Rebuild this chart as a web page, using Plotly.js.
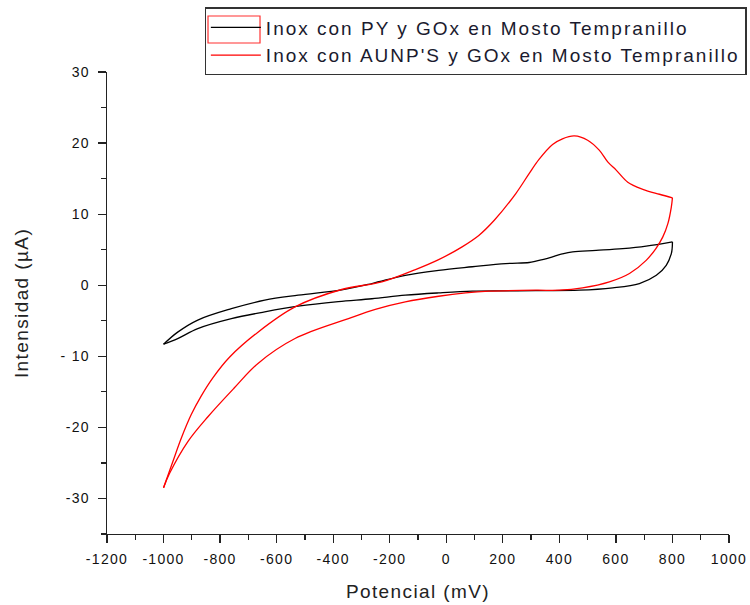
<!DOCTYPE html>
<html>
<head>
<meta charset="utf-8">
<script src="https://cdn.plot.ly/plotly-3.0.1.min.js"></script>
<style>
  html, body { margin: 0; padding: 0; background: #fff; }
  #chart { width: 750px; height: 605px; }
  .legendtext { letter-spacing: 2px; }
  .xtick text, .ytick text { letter-spacing: 1.3px; }
  .xtitle, .ytitle { letter-spacing: 1.4px; }
</style>
</head>
<body>
<div id="chart"></div>
<script>
// Series 1: Inox con PY y GOx en Mosto Tempranillo (CV loop: forward then reverse scan)
const pyForwardPotential = [-1000, -950, -879, -760, -642, -524, -370, -263, -145, -27, 92, 210, 293, 317, 364, 410, 447, 530, 624, 707, 800];
const pyForwardCurrent = [-8.3, -6.6, -4.9, -3.3, -2.1, -1.4, -0.65, 0.24, 1.4, 2.1, 2.6, 3.05, 3.2, 3.4, 3.85, 4.4, 4.7, 4.9, 5.15, 5.5, 6.1];
const pyReversePotential = [800, 799, 796, 778, 743, 683, 589, 470, 317, 210, 92, -27, -145, -263, -382, -524, -642, -760, -879, -950, -1000];
const pyReverseCurrent = [6.1, 5.2, 4.45, 2.8, 1.4, 0.24, -0.37, -0.7, -0.75, -0.8, -0.84, -1.08, -1.4, -1.9, -2.3, -2.95, -3.75, -4.7, -6.1, -7.5, -8.3];

// Series 2: Inox con AUNP'S y GOx en Mosto Tempranillo (CV loop: forward then reverse scan)
const auForwardPotential = [-1000, -967, -938, -902, -867, -825, -766, -666, -535, -370, -228, -109, -27, 56, 115, 169, 246, 293, 328, 376, 411, 453, 500, 541, 571, 601, 642, 695, 754, 800];
const auForwardCurrent = [-28.5, -24.8, -21.6, -18.2, -15.6, -13.0, -10.1, -6.6, -3.05, -0.6, 0.47, 2.2, 3.6, 5.4, 7.0, 9.1, 12.9, 15.7, 17.7, 19.8, 20.6, 21.0, 20.4, 19.0, 17.35, 16.2, 14.5, 13.5, 12.8, 12.3];
const auReversePotential = [800, 796, 784, 766, 742, 707, 648, 577, 482, 399, 317, 151, 68, -27, -145, -251, -346, -535, -666, -751, -843, -914, -979, -1000];
const auReverseCurrent = [12.3, 11.0, 8.7, 6.8, 5.2, 3.5, 1.65, 0.47, -0.37, -0.7, -0.7, -0.84, -1.08, -1.55, -2.35, -3.4, -4.7, -7.5, -11.0, -14.5, -18.5, -22.0, -26.5, -28.5];

const seriesNames = ["Inox con PY y GOx en Mosto Tempranillo", "Inox con AUNP'S y GOx en Mosto Tempranillo"];

// Tick labels
const xTickVals = [-1200, -1000, -800, -600, -400, -200, 0, 200, 400, 600, 800, 1000];
const xTickText = ["-1200", "-1000", "-800", "-600", "-400", "-200", "0", "200", "400", "600", "800", "1000"];
const yTickVals = [-30, -20, -10, 0, 10, 20, 30];
const yTickText = ["-30", "-20", "- 10", "0", "10", "20", "30"];

const blackLine = { color: "#000000", width: 1.3, shape: "spline", smoothing: 1 };
const redLine = { color: "#ff0000", width: 1.3, shape: "spline", smoothing: 1 };

const traces = [
  { x: pyForwardPotential, y: pyForwardCurrent, name: seriesNames[0], legendgroup: "py", type: "scatter", mode: "lines", line: blackLine },
  { x: pyReversePotential, y: pyReverseCurrent, name: seriesNames[0], legendgroup: "py", showlegend: false, type: "scatter", mode: "lines", line: blackLine },
  { x: auForwardPotential, y: auForwardCurrent, name: seriesNames[1], legendgroup: "au", type: "scatter", mode: "lines", line: redLine },
  { x: auReversePotential, y: auReverseCurrent, name: seriesNames[1], legendgroup: "au", showlegend: false, type: "scatter", mode: "lines", line: redLine }
];

const fontFam = "Liberation Sans, Arial, sans-serif";

const layout = {
  width: 750, height: 605,
  margin: { l: 107, r: 21, t: 72, b: 71, autoexpand: false },
  paper_bgcolor: "#ffffff", plot_bgcolor: "#ffffff",
  showlegend: true,
  legend: {
    x: 0.157, y: 1.14, xanchor: "left", yanchor: "top",
    bordercolor: "#333333", borderwidth: 1.2, bgcolor: "rgba(255,255,255,0)",
    font: { family: fontFam, size: 19, color: "#1a1a2e" },
    tracegroupgap: 0, itemwidth: 50, traceorder: "normal"
  },
  shapes: [
    { type: "rect", xref: "paper", yref: "paper", x0: 0.1624, x1: 0.246, y0: 1.0628, y1: 1.1212,
      line: { color: "#ff3030", width: 1.2 }, fillcolor: "rgba(0,0,0,0)" }
  ],
  xaxis: {
    range: [-1200, 1000], showgrid: false, zeroline: false,
    showline: true, linecolor: "#222", linewidth: 1.3,
    ticks: "outside", ticklen: 8, tickwidth: 1.2, tickcolor: "#222",
    tickmode: "array", tickvals: xTickVals, ticktext: xTickText,
    tickfont: { family: fontFam, size: 14, color: "#111" },
    ticklabelstandoff: 4,
    minor: { dtick: 100, tick0: -1200, ticks: "outside", ticklen: 5, tickwidth: 1.2, tickcolor: "#222", showgrid: false },
    title: { text: "Potencial (mV)", font: { family: fontFam, size: 19, color: "#222" }, standoff: 18 }
  },
  yaxis: {
    range: [-35, 30], showgrid: false, zeroline: false,
    showline: true, linecolor: "#222", linewidth: 1.3,
    ticks: "outside", ticklen: 8, tickwidth: 1.2, tickcolor: "#222",
    tickmode: "array", tickvals: yTickVals, ticktext: yTickText,
    tickfont: { family: fontFam, size: 14, color: "#111" },
    ticklabelstandoff: 5,
    minor: { dtick: 5, tick0: -35, ticks: "outside", ticklen: 5, tickwidth: 1.2, tickcolor: "#222", showgrid: false },
    title: { text: "Intensidad (µA)", font: { family: fontFam, size: 19, color: "#222" }, standoff: 27 }
  }
};

Plotly.newPlot("chart", traces, layout, { displayModeBar: false, staticPlot: true });
</script>
</body>
</html>
